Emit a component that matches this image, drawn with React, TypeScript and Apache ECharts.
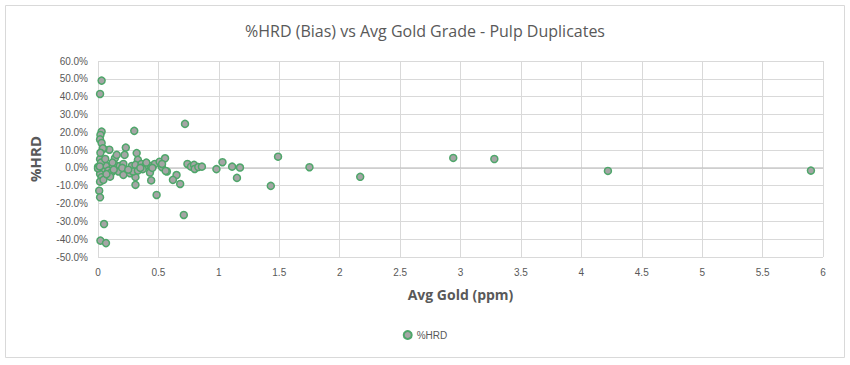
import React, { useEffect, useRef } from "react";
import * as echarts from "echarts";

const chartTitle = "%HRD (Bias) vs Avg Gold Grade - Pulp Duplicates";
const seriesName = "%HRD";
const xAxisName = "Avg Gold (ppm)";
const yAxisName = "%HRD";

// Avg gold (ppm)
const avgGold: number[] = [
  0.03, 0.017, 0.03, 0.02, 0.017, 0.03,
  0.01, 0.017, 0.05, 0.02, 0.066,
  0.094, 0.045, 0.23, 0.22, 0.32, 0.33, 0.017, 0.03, 0.14, 0.14, 0.18, 0.21, 0.10, 0.066, 0.0,
  0.017, 0.045, 0.085, 0.11, 0.17, 0.28, 0.31, 0.36, 0.39, 0.37, 0.44, 0.47, 0.51, 0.53,
  0.43, 0.44, 0.57, 0.31, 0.017, 0.03, 0.017, 0.045, 0.10, 0.21, 0.265, 0.31, 0.485, 0.29, 0.33,
  0.155, 0.30, 0.04,
  0.0, 0.02, 0.025, 0.06, 0.12, 0.2, 0.25, 0.35, 0.4, 0.45, 0.13, 0.07, 0.015,
  0.555, 0.53, 0.56, 0.65, 0.62, 0.68, 0.72, 0.74, 0.77, 0.795, 0.80, 0.83, 0.86, 0.98,
  1.03, 1.11, 1.175, 1.15, 0.71, 1.43, 1.49, 1.75, 2.17, 2.94, 3.28, 4.22, 5.90,
];

// %HRD values (percent)
const hrd: number[] = [
  49, 41.5, 20.4, 18.5, 16, 14,
  -12.8, -16.5, -31.5, -40.8, -42.2,
  10.2, 10.7, 11.4, 7.3, 8.3, 4.5, 4.9, 2.2, 5.4, 1.7, 1.1, 2.2, 1.1, 1.1, 0.5,
  -1.5, -2, -1.5, -2.6, -2, 1.1, 1.7, 2.2, 1.1, -0.7, 1.1, 2.2, 3.5, 0.4,
  -2.6, -7, -2, -9.5, -3.4, -5.2, -7.7, -6.7, -4.9, -3.9, -3, -5.2, -15.2, -2, -1.5,
  7.3, 20.8, 11,
  -0.3, 8.5, 3, 5, 3, 0, -1, 0, 3, 0, -1, -3.5, 0.8,
  5.4, 2.2, -1.7, -4, -6.7, -9, 24.7, 2.2, 0.7, 1.7, -0.6, 0.5, 0.7, -0.7,
  3.2, 0.7, 0.2, -5.6, -26.4, -10.1, 6.3, 0.4, -5, 5.6, 5, -1.7, -1.5,
];

const xTicks = { min: 0, max: 6, interval: 0.5 };
const yTicks = { min: -50, max: 60, interval: 10 };
const zeroLine: number[][] = [[0, 0], [6, 0]];

export default function App() {
  const ref = useRef<HTMLDivElement>(null);
  useEffect(() => {
    if (!ref.current) return;
    const chart = echarts.init(ref.current, undefined, { renderer: "svg" });
    const points = avgGold.map((x, i) => [x, hrd[i]]);
    const font = "'Liberation Sans', Arial, sans-serif";
    chart.setOption({
      animation: false,
      backgroundColor: "#ffffff",
      title: {
        text: chartTitle,
        left: "center",
        top: 18,
        textStyle: { fontFamily: "'Open Sans', sans-serif", fontSize: 16, fontWeight: "normal", color: "#595959" },
      },
      graphic: [
        {
          type: "rect",
          shape: { x: 5.5, y: 5.5, width: 839, height: 352 },
          style: { fill: "none", stroke: "#d9d9d9", lineWidth: 1 },
          silent: true,
        },
      ],
      legend: {
        data: [seriesName],
        bottom: 20,
        left: "center",
        itemWidth: 8,
        itemHeight: 8,
        itemGap: 4,
        textStyle: { fontFamily: font, fontSize: 10, color: "#595959" },
      },
      grid: { left: 98, right: 27, top: 61, bottom: 108, containLabel: false },
      xAxis: {
        type: "value",
        min: xTicks.min,
        max: xTicks.max,
        interval: xTicks.interval,
        name: xAxisName,
        nameLocation: "middle",
        nameGap: 30,
        nameTextStyle: { fontFamily: "'Open Sans', sans-serif", fontSize: 14, fontWeight: "bold", color: "#595959" },
        axisLine: { show: false },
        axisTick: { show: false },
        axisLabel: { fontFamily: font, fontSize: 10, color: "#595959", margin: 10 },
        splitLine: { show: true, lineStyle: { color: "#d9d9d9", width: 1 } },
      },
      yAxis: {
        type: "value",
        min: yTicks.min,
        max: yTicks.max,
        interval: yTicks.interval,
        name: yAxisName,
        nameLocation: "middle",
        nameGap: 56,
        nameTextStyle: { fontFamily: "'Open Sans', sans-serif", fontSize: 15, fontWeight: "bold", color: "#595959" },
        axisLine: { show: false },
        axisTick: { show: false },
        axisLabel: {
          fontFamily: font,
          fontSize: 10,
          color: "#595959",
          margin: 10,
          formatter: (v: number) => `${v.toFixed(1)}%`,
        },
        splitLine: { show: true, lineStyle: { color: "#d9d9d9", width: 1 } },
      },
      series: [
        {
          name: "zero",
          type: "line",
          data: zeroLine,
          symbol: "none",
          silent: true,
          z: 1,
          lineStyle: { color: "#bfbfbf", width: 1 },
        },
        {
          name: seriesName,
          type: "scatter",
          data: points,
          symbol: "circle",
          symbolSize: 7,
          z: 3,
          itemStyle: { color: "#a5a5a5", borderColor: "#4ea66a", borderWidth: 1.5, opacity: 1 },
        },
      ],
    });
    return () => chart.dispose();
  }, []);
  return (
    <div
      ref={ref}
      style={{ position: "fixed", left: 0, top: 0, width: 850, height: 365 }}
    />
  );
}
